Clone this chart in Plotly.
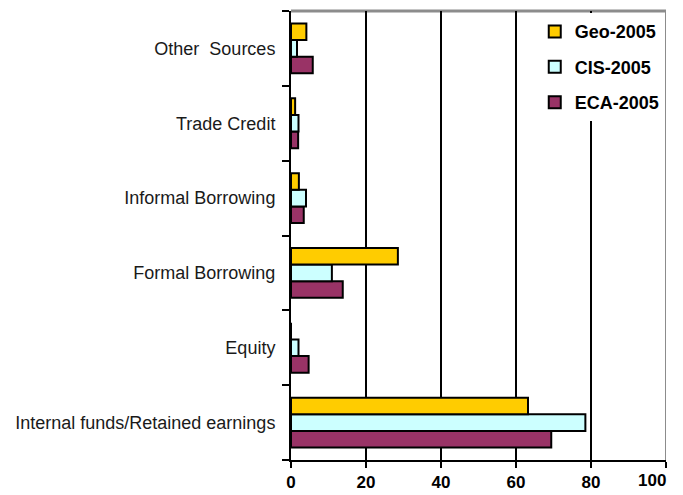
import plotly.graph_objects as go

# categories from bottom to top
categories = [
    "Internal funds/Retained earnings",
    "Equity",
    "Formal Borrowing",
    "Informal Borrowing",
    "Trade Credit",
    "Other\u00a0 Sources",
]
geo_2005 = [63.2, 0.0, 28.5, 2.1, 1.1, 4.1]
cis_2005 = [78.5, 2.0, 10.9, 4.0, 2.0, 1.6]
eca_2005 = [69.4, 4.7, 13.8, 3.4, 1.9, 5.8]
x_ticks = [0, 20, 40, 60, 80, 100]
x_tick_text = ["0", "20", "40", "60", "80", ""]
last_tick_label = "100"

FONT = "Arial, Liberation Sans, sans-serif"

fig = go.Figure()

# horizontal groups put the first trace at the bottom, so add ECA first
series = [
    ("ECA-2005", eca_2005, "#993366", 3),
    ("CIS-2005", cis_2005, "#CCFFFF", 2),
    ("Geo-2005", geo_2005, "#FFCC00", 1),
]
for name, vals, color, rank in series:
    fig.add_trace(
        go.Bar(
            y=categories,
            x=vals,
            name=name,
            orientation="h",
            legendgroup=name,
            legendrank=rank,
            marker=dict(color=color, line=dict(color="black", width=2)),
        )
    )

# grey frame on the top and at 100
fig.add_shape(type="line", xref="x", yref="paper", x0=100, x1=100, y0=0, y1=1,
              line=dict(color="#8c8c8c", width=2), layer="between")
fig.add_shape(type="line", xref="paper", yref="paper", x0=0, x1=1, y0=1, y1=1,
              line=dict(color="#8c8c8c", width=3), layer="between")

# last tick label sits left of its tick, as in the original
fig.add_annotation(
    x=x_ticks[-1], xref="x", y=0, yref="paper",
    text=last_tick_label, showarrow=False,
    xanchor="right", yanchor="top", xshift=2, yshift=-9,
    font=dict(family=FONT, size=17, weight="bold", color="black"),
)

fig.update_layout(
    width=683,
    height=495,
    margin=dict(l=291, r=17, t=11, b=35),
    paper_bgcolor="white",
    plot_bgcolor="white",
    barmode="group",
    bargap=0.333,
    bargroupgap=0,
    font=dict(family=FONT, color="black", size=17),
    legend=dict(
        x=0.65,
        xanchor="left",
        y=0.995,
        yanchor="top",
        bgcolor="white",
        traceorder="grouped",
        tracegroupgap=9,
        font=dict(family=FONT, size=18, color="black", weight="bold"),
    ),
    xaxis=dict(
        range=[0, 100],
        tickvals=x_ticks,
        ticktext=x_tick_text,
        showgrid=True,
        gridcolor="black",
        gridwidth=2,
        zeroline=False,
        showline=True,
        linecolor="black",
        linewidth=2,
        ticks="outside",
        ticklen=6,
        tickwidth=2,
        tickcolor="black",
        tickfont=dict(family=FONT, size=17, weight="bold"),
        automargin=False,
    ),
    yaxis=dict(
        showline=True,
        linecolor="black",
        linewidth=2,
        ticks="outside",
        tickson="boundaries",
        ticklen=7,
        tickwidth=2,
        tickcolor="black",
        showgrid=False,
        tickfont=dict(family=FONT, size=18, color="#1a1a1a"),
        ticklabelstandoff=10,
        automargin=False,
    ),
)

# drop the page's default body margin so the figure sits at the window corner
fig.write_html(
    "out.html",
    config={"displayModeBar": False},
    post_script="document.body.style.margin='0';",
)
